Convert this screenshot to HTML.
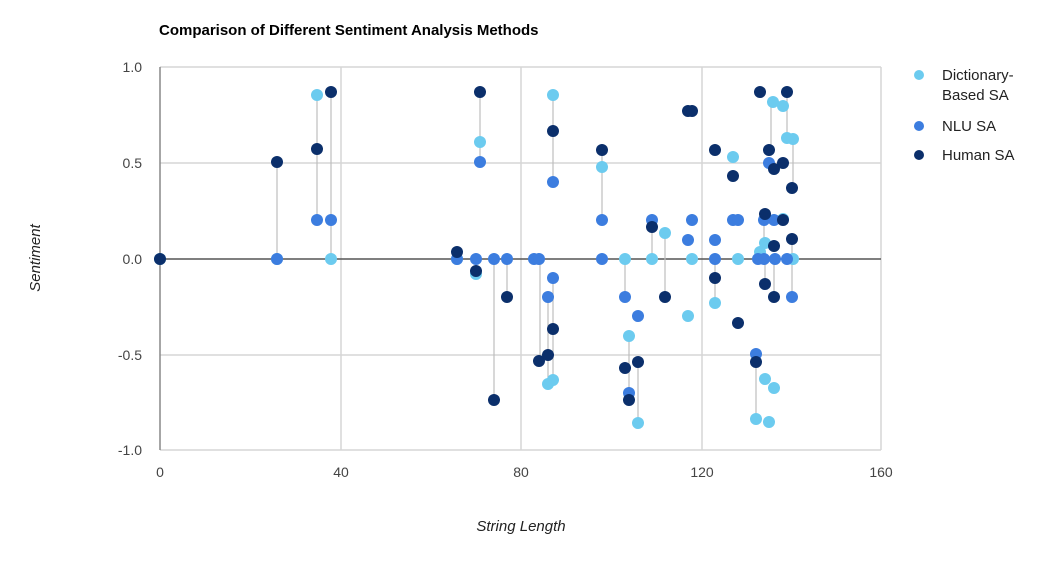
<!DOCTYPE html>
<html><head><style>body{margin:0;background:#fff}svg{display:block}text{font-family:"Liberation Sans",Arial,sans-serif}</style></head>
<body>
<svg width="1061" height="581" viewBox="0 0 1061 581">
<text x="159" y="35" font-size="15" font-weight="bold" fill="#000">Comparison of Different Sentiment Analysis Methods</text>
<g stroke="#d6d6d6" stroke-width="1.5">
<line x1="160" y1="67" x2="881" y2="67"/><line x1="160" y1="163" x2="881" y2="163"/><line x1="160" y1="355" x2="881" y2="355"/><line x1="160" y1="450" x2="881" y2="450"/>
<line x1="341" y1="67" x2="341" y2="450"/><line x1="521" y1="67" x2="521" y2="450"/><line x1="702" y1="67" x2="702" y2="450"/><line x1="881" y1="67" x2="881" y2="450"/>
</g>
<line x1="160" y1="67" x2="160" y2="450" stroke="#888" stroke-width="1.5"/>
<line x1="160" y1="259" x2="881" y2="259" stroke="#555" stroke-width="1.5"/>
<g font-size="14" fill="#444" text-anchor="end">
<text x="142" y="72">1.0</text><text x="142" y="168">0.5</text><text x="142" y="264">0.0</text><text x="142" y="360">-0.5</text><text x="142" y="455">-1.0</text>
</g>
<g font-size="14" fill="#444" text-anchor="middle">
<text x="160" y="477">0</text><text x="341" y="477">40</text><text x="521" y="477">80</text><text x="702" y="477">120</text><text x="881" y="477">160</text>
</g>
<text x="521" y="531" font-size="15" font-style="italic" fill="#222" text-anchor="middle">String Length</text>
<text transform="translate(40,258) rotate(-90)" font-size="15" font-style="italic" fill="#222" text-anchor="middle">Sentiment</text>
<g stroke="#bdbdbd" stroke-width="1.2">
<line x1="277" y1="162" x2="277" y2="258"/><line x1="317" y1="95" x2="317" y2="220"/><line x1="331" y1="92" x2="331" y2="258"/>
<line x1="480" y1="92" x2="480" y2="162"/><line x1="494" y1="258" x2="494" y2="400"/><line x1="507" y1="258" x2="507" y2="297"/>
<line x1="540" y1="258" x2="540" y2="357"/><line x1="548" y1="297" x2="548" y2="384"/><line x1="553" y1="95" x2="553" y2="182"/><line x1="553" y1="279" x2="553" y2="380"/>
<line x1="602" y1="150" x2="602" y2="220"/><line x1="625" y1="258" x2="625" y2="297"/><line x1="629" y1="336" x2="629" y2="393"/><line x1="638" y1="362" x2="638" y2="423"/>
<line x1="652" y1="227" x2="652" y2="258"/><line x1="665" y1="233" x2="665" y2="297"/><line x1="715" y1="258" x2="715" y2="304"/>
<line x1="771" y1="102" x2="771" y2="150"/><line x1="787" y1="92" x2="787" y2="138"/><line x1="793" y1="139" x2="793" y2="188"/>
<line x1="756" y1="354" x2="756" y2="419"/><line x1="765" y1="259" x2="765" y2="284"/><line x1="774" y1="259" x2="774" y2="297"/><line x1="792" y1="239" x2="792" y2="297"/><line x1="764" y1="220" x2="764" y2="258"/>
</g>
<g fill="#6ccbef">
<circle cx="160" cy="259" r="6"/><circle cx="277" cy="259" r="6"/><circle cx="317" cy="95" r="6"/><circle cx="331" cy="259" r="6"/><circle cx="457" cy="259" r="6"/><circle cx="476" cy="274" r="6"/><circle cx="480" cy="142" r="6"/>
<circle cx="548" cy="384" r="6"/><circle cx="553" cy="95" r="6"/><circle cx="553" cy="380" r="6"/><circle cx="602" cy="167" r="6"/><circle cx="625" cy="259" r="6"/><circle cx="629" cy="336" r="6"/><circle cx="638" cy="423" r="6"/>
<circle cx="652" cy="259" r="6"/><circle cx="665" cy="233" r="6"/><circle cx="688" cy="316" r="6"/><circle cx="692" cy="259" r="6"/><circle cx="715" cy="303" r="6"/><circle cx="733" cy="157" r="6"/><circle cx="738" cy="259" r="6"/>
<circle cx="773" cy="102" r="6"/><circle cx="783" cy="106" r="6"/><circle cx="787" cy="138" r="6"/><circle cx="793" cy="139" r="6"/><circle cx="783" cy="219" r="6"/><circle cx="765" cy="243" r="6"/><circle cx="760" cy="252" r="6"/><circle cx="793" cy="259" r="6"/>
<circle cx="765" cy="379" r="6"/><circle cx="774" cy="388" r="6"/><circle cx="756" cy="419" r="6"/><circle cx="769" cy="422" r="6"/>
</g>
<g fill="#3c7ddf">
<circle cx="277" cy="259" r="6"/><circle cx="317" cy="220" r="6"/><circle cx="331" cy="220" r="6"/><circle cx="457" cy="259" r="6"/><circle cx="476" cy="259" r="6"/><circle cx="480" cy="162" r="6"/><circle cx="494" cy="259" r="6"/><circle cx="507" cy="259" r="6"/>
<circle cx="534" cy="259" r="6"/><circle cx="539" cy="259" r="6"/><circle cx="548" cy="297" r="6"/><circle cx="553" cy="182" r="6"/><circle cx="553" cy="278" r="6"/><circle cx="602" cy="220" r="6"/><circle cx="602" cy="259" r="6"/>
<circle cx="625" cy="297" r="6"/><circle cx="629" cy="393" r="6"/><circle cx="638" cy="316" r="6"/><circle cx="652" cy="220" r="6"/><circle cx="688" cy="240" r="6"/><circle cx="692" cy="220" r="6"/>
<circle cx="715" cy="240" r="6"/><circle cx="715" cy="259" r="6"/><circle cx="733" cy="220" r="6"/><circle cx="738" cy="220" r="6"/>
<circle cx="769" cy="163" r="6"/><circle cx="764" cy="220" r="6"/><circle cx="774" cy="220" r="6"/><circle cx="758" cy="259" r="6"/><circle cx="764" cy="259" r="6"/><circle cx="775" cy="259" r="6"/><circle cx="787" cy="259" r="6"/><circle cx="792" cy="297" r="6"/><circle cx="756" cy="354" r="6"/>
</g>
<g fill="#0b2f6b">
<circle cx="160" cy="259" r="6"/><circle cx="277" cy="162" r="6"/><circle cx="317" cy="149" r="6"/><circle cx="331" cy="92" r="6"/><circle cx="457" cy="252" r="6"/><circle cx="476" cy="271" r="6"/><circle cx="480" cy="92" r="6"/>
<circle cx="494" cy="400" r="6"/><circle cx="507" cy="297" r="6"/><circle cx="539" cy="361" r="6"/><circle cx="548" cy="355" r="6"/><circle cx="553" cy="131" r="6"/><circle cx="553" cy="329" r="6"/>
<circle cx="602" cy="150" r="6"/><circle cx="625" cy="368" r="6"/><circle cx="629" cy="400" r="6"/><circle cx="638" cy="362" r="6"/><circle cx="652" cy="227" r="6"/><circle cx="665" cy="297" r="6"/>
<circle cx="688" cy="111" r="6"/><circle cx="692" cy="111" r="6"/><circle cx="715" cy="150" r="6"/><circle cx="715" cy="278" r="6"/><circle cx="733" cy="176" r="6"/><circle cx="738" cy="323" r="6"/>
<circle cx="760" cy="92" r="6"/><circle cx="787" cy="92" r="6"/><circle cx="769" cy="150" r="6"/><circle cx="792" cy="188" r="6"/><circle cx="774" cy="169" r="6"/><circle cx="783" cy="163" r="6"/>
<circle cx="765" cy="214" r="6"/><circle cx="783" cy="220" r="6"/><circle cx="774" cy="246" r="6"/><circle cx="792" cy="239" r="6"/><circle cx="765" cy="284" r="6"/><circle cx="774" cy="297" r="6"/><circle cx="756" cy="362" r="6"/>
</g>
<g font-size="15" fill="#222">
<circle cx="919" cy="75" r="5" fill="#6ccbef"/><text x="942" y="80">Dictionary-</text><text x="942" y="100">Based SA</text>
<circle cx="919" cy="126" r="5" fill="#3c7ddf"/><text x="942" y="131">NLU SA</text>
<circle cx="919" cy="155" r="5" fill="#0b2f6b"/><text x="942" y="160">Human SA</text>
</g>
</svg>
</body></html>
